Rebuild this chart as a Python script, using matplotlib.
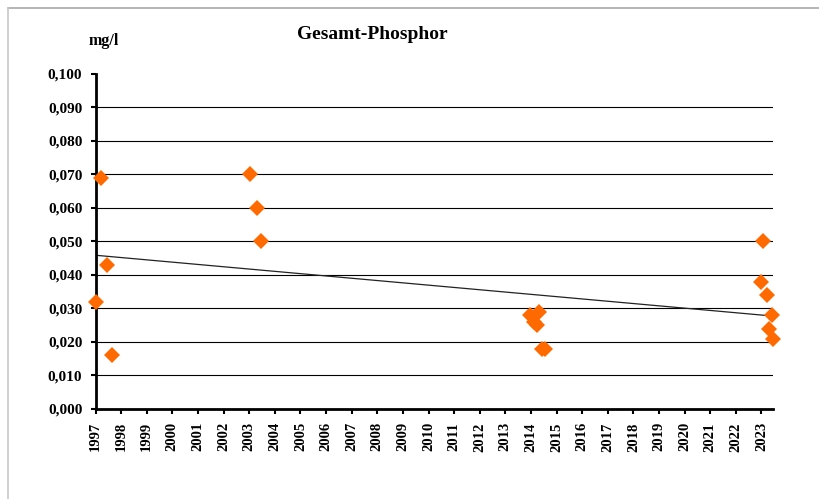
import numpy as np
import matplotlib
matplotlib.use("Agg")
import matplotlib.pyplot as plt
from matplotlib.lines import Line2D

# Messwerte Gesamt-Phosphor (Jahr als Dezimalzahl, mg/l)
years = [1997.21, 1997.46, 1997.02, 1997.63,
         2003.03, 2003.29, 2003.46,
         2013.96, 2014.32, 2014.12, 2014.23, 2014.43, 2014.55,
         2023.05, 2022.97, 2023.20, 2023.40, 2023.28, 2023.44]
values = [0.069, 0.043, 0.032, 0.016,
          0.070, 0.060, 0.050,
          0.028, 0.029, 0.026, 0.025, 0.018, 0.018,
          0.050, 0.038, 0.034, 0.028, 0.024, 0.021]

year_ticks = list(range(1997, 2024))
y_ticks = [0.0, 0.01, 0.02, 0.03, 0.04, 0.05, 0.06, 0.07, 0.08, 0.09, 0.10]

plt.rcParams['font.family'] = ['Liberation Serif', 'DejaVu Serif']
plt.rcParams['font.weight'] = 'bold'

fig = plt.figure(figsize=(8.2, 4.99), dpi=100)
ax = fig.add_axes([0.1165, 0.1804, 0.8262, 0.6713])

# Trendlinie (linear)
x = np.array(years)
y = np.array(values)
k, d = np.polyfit(x, y, 1)
xt = np.array([x.min(), x.max()])
ax.plot(xt, k * xt + d, color='#222222', lw=0.9, zorder=2)

ax.plot(years, values, linestyle='none', marker='D', markersize=8.5,
        color='#ff6a00', markeredgewidth=0, zorder=3, clip_on=False)

ax.set_xlim(1997, 2023.45)
ax.set_ylim(0, 0.1)
ax.set_xticks(year_ticks)
ax.set_xticklabels([str(v) for v in year_ticks], rotation=90, fontsize=10.5,
                   fontweight='bold')
ax.set_yticks(y_ticks)
ax.set_yticklabels([f"{v:.3f}".replace('.', ',') for v in y_ticks],
                   fontsize=11, fontweight='bold')

ax.yaxis.grid(True, color='black', lw=0.8)
gl = ax.get_ygridlines()
gl[0].set_visible(False)
gl[-1].set_visible(False)
ax.set_axisbelow(True)

for s in ['top', 'right']:
    ax.spines[s].set_visible(False)
for s in ['left', 'bottom']:
    ax.spines[s].set_linewidth(2.0)
ax.tick_params(axis='both', direction='out', length=3.5, width=1.5, pad=6)

fig.text(0.454, 0.93, 'Gesamt-Phosphor', ha='center', va='center',
         fontsize=14, fontweight='bold')
fig.text(0.126, 0.918, 'mg/l', ha='center', va='center',
         fontsize=11.5, fontweight='bold')

# Rahmen
bx, by = 8 / 820, 1 - 8 / 499
fig.add_artist(Line2D([bx, 1], [by, by], transform=fig.transFigure,
                      color='#a8a8a8', lw=1.2))
fig.add_artist(Line2D([bx, bx], [0, by], transform=fig.transFigure,
                      color='#c8c8c8', lw=1.2))

fig.savefig('out.png', dpi=100)
